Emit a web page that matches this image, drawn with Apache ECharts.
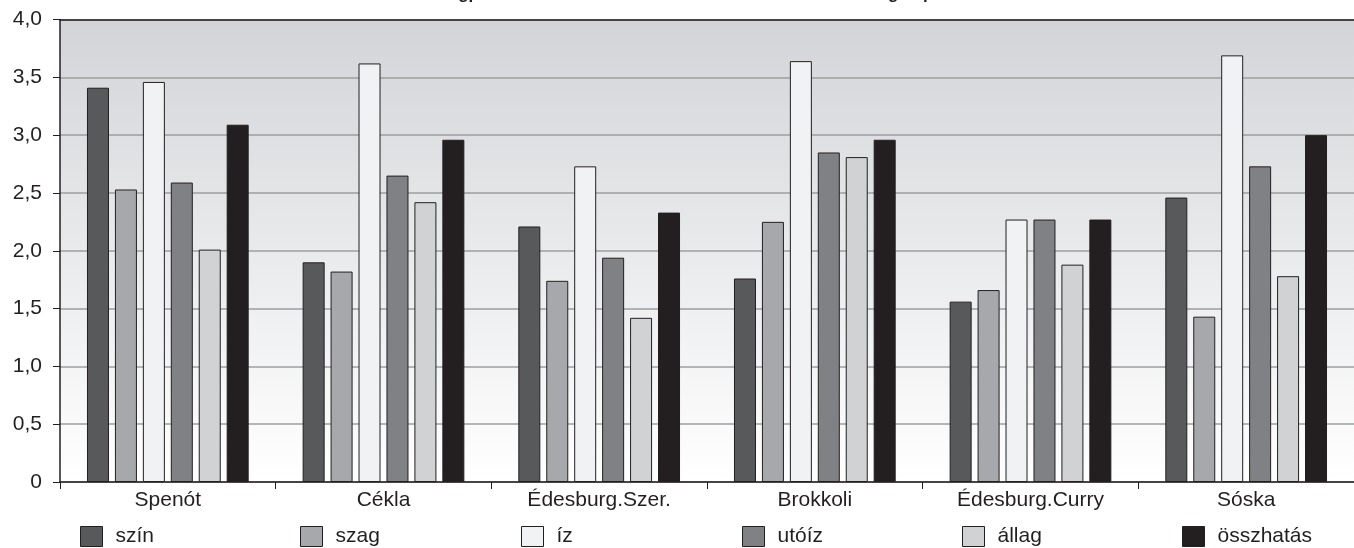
<!DOCTYPE html>
<html>
<head>
<meta charset="utf-8">
<script src="https://cdn.jsdelivr.net/npm/echarts@6/dist/echarts.min.js"></script>
<style>html,body{margin:0;padding:0;background:#fff;}#c{width:1354px;height:548px;}</style>
</head>
<body>
<div id="c"></div>
<script>
const titleText = 'Zöldségporral dúsított termékek érzékszervi bírálatának átlagos pontszámai';
const categories = ['Spenót', 'Cékla', 'Édesburg.Szer.', 'Brokkoli', 'Édesburg.Curry', 'Sóska'];
const seriesNames = ['szín', 'szag', 'íz', 'utóíz', 'állag', 'összhatás'];
const szin      = [3.41, 1.90, 2.21, 1.76, 1.56, 2.46];
const szag      = [2.53, 1.82, 1.74, 2.25, 1.66, 1.43];
const iz        = [3.46, 3.62, 2.73, 3.64, 2.27, 3.69];
const utoiz     = [2.59, 2.65, 1.94, 2.85, 2.27, 2.73];
const allag     = [2.01, 2.42, 1.42, 2.81, 1.88, 1.78];
const osszhatas = [3.09, 2.96, 2.33, 2.96, 2.27, 3.00];
const yTicks = [0, 0.5, 1, 1.5, 2, 2.5, 3, 3.5, 4];

const values = [szin, szag, iz, utoiz, allag, osszhatas];
const colors = ['#58595b', '#a7a8ab', '#f1f2f4', '#808184', '#d1d2d4', '#231f20'];
const legendLeft = [80, 300, 521, 742, 962, 1182];
const font = "'Liberation Sans', Arial, sans-serif";
const ink = '#231f20';

const chart = echarts.init(document.getElementById('c'));
chart.setOption({
  animation: false,
  title: {
    text: titleText, left: 705, textAlign: 'center', top: -19,
    textStyle: {fontFamily: font, fontSize: 17, fontWeight: 'bold', color: ink}
  },
  grid: {
    left: 60, top: 19.5, width: 1300, height: 462.5,
    show: true, borderWidth: 0,
    backgroundColor: new echarts.graphic.LinearGradient(0, 0, 0, 1, [
      {offset: 0, color: '#d3d4d7'},
      {offset: 0.5, color: '#e9eaec'},
      {offset: 1, color: '#ffffff'}
    ])
  },
  legend: seriesNames.map((n, i) => ({
    data: [n], left: legendLeft[i], top: 526, padding: 0,
    itemWidth: 22, itemHeight: 20, icon: 'rect',
    itemStyle: {borderColor: ink, borderWidth: 1},
    textStyle: {fontFamily: font, fontSize: 21, color: ink, padding: [0, 0, 0, 8]}
  })),
  xAxis: [{
    type: 'category', data: categories,
    axisLine: {lineStyle: {color: ink, width: 1.5}},
    axisTick: {show: true, length: 7, lineStyle: {color: ink, width: 1}},
    axisLabel: {fontFamily: font, fontSize: 21, color: ink, margin: 8}
  }, {
    type: 'category', data: categories, position: 'top',
    axisLine: {lineStyle: {color: ink, width: 1.5}},
    axisTick: {show: false}, axisLabel: {show: false}
  }],
  yAxis: {
    type: 'value', min: yTicks[0], max: yTicks[yTicks.length - 1], interval: 0.5,
    axisLine: {show: true, lineStyle: {color: ink, width: 1.5}},
    axisTick: {show: true, inside: false, length: 7, lineStyle: {color: ink, width: 1}},
    axisLabel: {
      fontFamily: font, fontSize: 21, color: ink, margin: 18,
      formatter: v => v === 0 ? '0' : v.toFixed(1).replace('.', ',')
    },
    splitLine: {show: true, lineStyle: {color: '#9d9ea0', width: 1.5}}
  },
  series: seriesNames.map((n, i) => ({
    name: n, type: 'bar', data: values[i],
    barWidth: 22, barGap: '27%',
    itemStyle: {color: colors[i], borderColor: ink, borderWidth: 1}
  }))
});
</script>
</body>
</html>
